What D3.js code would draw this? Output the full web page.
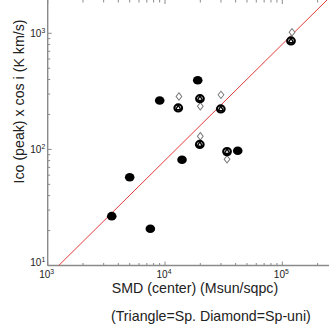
<!DOCTYPE html>
<html><head><meta charset="utf-8">
<script src="https://cdn.jsdelivr.net/npm/d3@7"></script>
<style>body{margin:0;background:#fff}svg{display:block}</style>
</head><body>
<svg id="c" width="329" height="332"></svg>
<script>
// Data
const filledX = [3515, 5000, 7500, 9015, 13970, 19010, 41700];
const filledY = [26.6, 57.5, 20.7, 264, 81.4, 394, 97.3];
const spX = [12970, 19860, 29900, 19800, 33790, 118600];
const spY = [227.5, 273.5, 223, 110.3, 95.7, 859];
const spuniX = [13150, 20000, 30000, 20000, 33790, 121000];
const spuniY = [285.8, 235.6, 295, 129.9, 82.2, 1020];
const fitX = [1000, 400000];
const fitCoef = 0.00805; // Ico = coef * SMD (slope 1 in log-log)
const xMajor = [1e3, 1e4, 1e5];
const yMajor = [1e1, 1e2, 1e3];
const xLabel = "SMD (center) (Msun/sqpc)";
const yLabel = "Ico (peak) x cos i (K km/s)";
const note = "(Triangle=Sp. Diamond=Sp-uni)";

(function(){
const svg = d3.select("#c");
const W = 329;
const x = d3.scaleLog().domain([1e3, 1e5]).range([47.7, 282.3]);
const y = d3.scaleLog().domain([10, 1000]).range([265.5, 33.3]);
const pL = x(1e3), pB = y(10), pT = 0, pR = W;

const axisCol = "#8a8a8a";
const xMax = x.invert(pR), yMax = y.invert(pT);
const xMinor = [], yMinor = [];
[1e3,1e4,1e5].forEach(d => { for (let m=2;m<=9;m++){ const v=d*m; if (v<=xMax) xMinor.push(v);} });
[1e1,1e2,1e3].forEach(d => { for (let m=2;m<=9;m++){ const v=d*m; if (v<=yMax) yMinor.push(v);} });

const g = svg.append("g");
svg.append("defs").append("clipPath").attr("id","pc").append("rect")
  .attr("x", pL).attr("y", pT).attr("width", pR-pL).attr("height", pB-pT);

g.append("line").attr("x1", pL).attr("x2", pR).attr("y1", pB).attr("y2", pB)
  .attr("stroke", axisCol).attr("stroke-width", 1.4);
g.append("line").attr("x1", pL).attr("x2", pL).attr("y1", pT).attr("y2", pB)
  .attr("stroke", axisCol).attr("stroke-width", 1.4);

xMajor.forEach(v => g.append("line").attr("x1", x(v)).attr("x2", x(v)).attr("y1", pB).attr("y2", pB-4)
  .attr("stroke", axisCol).attr("stroke-width", 1));
xMinor.forEach(v => g.append("line").attr("x1", x(v)).attr("x2", x(v)).attr("y1", pB).attr("y2", pB-2.5)
  .attr("stroke", axisCol).attr("stroke-width", 1));
xMajor.forEach(v => g.append("line").attr("x1", x(v)).attr("x2", x(v)).attr("y1", pT).attr("y2", pT+4)
  .attr("stroke", axisCol).attr("stroke-width", 1));
xMinor.forEach(v => g.append("line").attr("x1", x(v)).attr("x2", x(v)).attr("y1", pT).attr("y2", pT+2.5)
  .attr("stroke", axisCol).attr("stroke-width", 1));
yMajor.forEach(v => g.append("line").attr("x1", pL).attr("x2", pL+4).attr("y1", y(v)).attr("y2", y(v))
  .attr("stroke", axisCol).attr("stroke-width", 1));
yMinor.forEach(v => g.append("line").attr("x1", pL).attr("x2", pL+2.5).attr("y1", y(v)).attr("y2", y(v))
  .attr("stroke", axisCol).attr("stroke-width", 1));

const font = "Arial, 'Liberation Sans', sans-serif";
function powLabel(sel, v){
  const e = Math.round(Math.log10(v));
  sel.append("tspan").text("10");
  sel.append("tspan").attr("dy", -4).attr("font-size", 6.8).text(e);
}
xMajor.forEach(v => {
  const t = svg.append("text").attr("x", x(v)-1).attr("y", 278.3).attr("text-anchor","middle")
    .attr("font-family", font).attr("font-size", 10).attr("fill", "#222");
  powLabel(t, v);
});
yMajor.forEach(v => {
  const t = svg.append("text").attr("x", pL-2.5).attr("y", y(v)+(v===10?0:3.5)).attr("text-anchor","end")
    .attr("font-family", font).attr("font-size", 10).attr("fill", "#222");
  powLabel(t, v);
});

svg.append("line").attr("clip-path","url(#pc)")
  .attr("x1", x(fitX[0])).attr("y1", y(fitCoef*fitX[0]))
  .attr("x2", x(fitX[1])).attr("y2", y(fitCoef*fitX[1]))
  .attr("stroke", "#e33b3b").attr("stroke-width", 1);

const diamond = d3.symbol().type(d3.symbolDiamond).size(22);
svg.append("g").selectAll("path").data(spuniX.map((d,i)=>[d, spuniY[i]])).join("path")
  .attr("d", diamond).attr("transform", d => `translate(${x(d[0])},${y(d[1])}) scale(1.15,0.85)`)
  .attr("fill", "#fff").attr("stroke", "#777").attr("stroke-width", 0.9);

svg.append("g").selectAll("ellipse").data(filledX.map((d,i)=>[d, filledY[i]])).join("ellipse")
  .attr("cx", d => x(d[0])).attr("cy", d => y(d[1])).attr("rx", 4.8).attr("ry", 4.3)
  .attr("fill", "#000");

const sp = svg.append("g").selectAll("g").data(spX.map((d,i)=>[d, spY[i]])).join("g")
  .attr("transform", d => `translate(${x(d[0])},${y(d[1])})`);
sp.append("ellipse").attr("rx", 3.8).attr("ry", 3.5).attr("fill", "#fff").attr("stroke", "#000").attr("stroke-width", 2.2);
sp.append("path").attr("d", d3.symbol().type(d3.symbolTriangle).size(12)).attr("transform","translate(0,0.3)")
  .attr("fill", "#fff").attr("stroke", "#000").attr("stroke-width", 1.4);

svg.append("text").attr("x", 195).attr("y", 292.5).attr("text-anchor","middle")
  .attr("font-family", font).attr("font-size", 14.2).attr("fill", "#222").text(xLabel);
svg.append("text").attr("x", 111).attr("y", 321).attr("text-anchor","start")
  .attr("font-family", font).attr("font-size", 14.2).attr("fill", "#222").text(note);
svg.append("text").attr("transform", "translate(24,101.5) rotate(-90)").attr("text-anchor","middle")
  .attr("font-family", font).attr("font-size", 14.2).attr("fill", "#222").text(yLabel);
})();
</script>
</body></html>
